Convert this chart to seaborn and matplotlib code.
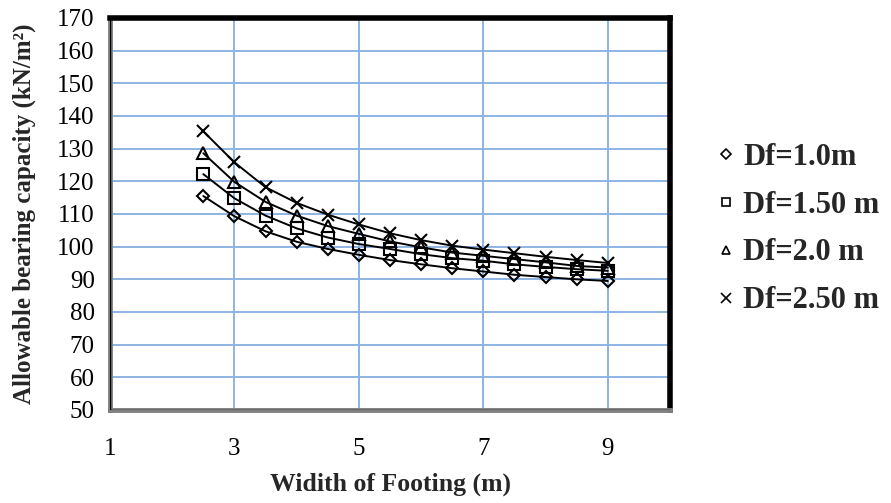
import matplotlib
matplotlib.use("Agg")
import matplotlib.pyplot as plt
from matplotlib.lines import Line2D
import seaborn as sns
import pandas as pd

width_m = [2.5, 3.0, 3.5, 4.0, 4.5, 5.0, 5.5, 6.0, 6.5, 7.0, 7.5, 8.0, 8.5, 9.0]
df_10 = [115.5, 109.3, 104.7, 101.5, 99.3, 97.5, 95.9, 94.6, 93.4, 92.4, 91.4, 90.7, 90.0, 89.5]
df_15 = [122.2, 114.8, 109.5, 105.6, 102.8, 100.8, 99.3, 97.7, 96.5, 95.7, 94.6, 93.8, 93.1, 92.6]
df_20 = [128.6, 119.8, 113.7, 109.5, 106.3, 103.9, 101.6, 99.8, 98.2, 97.2, 96.2, 95.2, 94.1, 93.6]
df_25 = [135.3, 125.8, 118.2, 113.4, 109.8, 106.8, 104.1, 102.0, 100.3, 99.1, 98.0, 96.9, 95.9, 95.0]
series_names = ["Df=1.0m", "Df=1.50 m", "Df=2.0 m", "Df=2.50 m"]
x_ticks = [1, 3, 5, 7, 9]
y_ticks = list(range(50, 171, 10))
x_label = "Widith of Footing (m)"
y_label = "Allowable bearing capacity (kN/m²)"

records = []
for name, vals in zip(series_names, [df_10, df_15, df_20, df_25]):
    for w, v in zip(width_m, vals):
        records.append({"Width": w, "Capacity": v, "Series": name})
data = pd.DataFrame(records)

sns.set_style("white")
plt.rcParams["font.family"] = ["Liberation Serif", "DejaVu Serif"]

fig = plt.figure(figsize=(8.91, 5.03), dpi=100)
ax = fig.add_axes([110 / 891, 1 - 410 / 503, 560 / 891, 392 / 503])

markers = {"Df=1.0m": "D", "Df=1.50 m": "s", "Df=2.0 m": "^", "Df=2.50 m": "x"}
msizes = {"Df=1.0m": 6.5, "Df=1.50 m": 8, "Df=2.0 m": 8, "Df=2.50 m": 9}
for name in series_names:
    sub = data[data["Series"] == name]
    sns.lineplot(data=sub, x="Width", y="Capacity", ax=ax, color="black",
                 linewidth=1.4, marker=markers[name], markersize=msizes[name],
                 markerfacecolor="none", markeredgecolor="black",
                 markeredgewidth=1.5, legend=False, zorder=3)

ax.set_xlim(1, 10)
ax.set_ylim(50, 170)
ax.set_xticks(x_ticks)
ax.set_yticks(y_ticks)
ax.grid(True, color="#8EB4E3", linewidth=1.4, zorder=0)
ax.set_axisbelow(True)

for s in ["left", "bottom"]:
    ax.spines[s].set_color("#808080")
    ax.spines[s].set_linewidth(3.5)
for s in ["top", "right"]:
    ax.spines[s].set_color("black")
    ax.spines[s].set_linewidth(4)
ax.axvline(1, color="black", linewidth=1.0, zorder=5)
ax.axhline(50, color="black", linewidth=1.0, zorder=5)

ax.tick_params(axis="both", direction="out", length=6, width=1.2, color="#808080",
               labelsize=18, labelcolor="black")
ax.tick_params(axis="x", pad=14)
ax.tick_params(axis="y", pad=5)

ax.set_xlabel(x_label, fontsize=18.5, fontweight="bold")
ax.set_ylabel(y_label, fontsize=18, fontweight="bold")
ax.xaxis.set_label_coords(0.5, -(484 - 410) / 392, transform=ax.transAxes)
ax.xaxis.label.set_va("center")
ax.yaxis.set_label_coords(-(110 - 24) / 560, 0.5, transform=ax.transAxes)
ax.yaxis.label.set_va("center")

handles = [Line2D([], [], linestyle="none", marker=markers[n], markersize=msizes[n] * 0.75,
                  markerfacecolor="none", markeredgecolor="black", markeredgewidth=1.2)
           for n in series_names]
leg = fig.legend(handles, series_names, loc="center left", bbox_to_anchor=(717 / 891, 1 - 229 / 503),
                 frameon=False, prop={"weight": "bold", "size": 22, "family": "Liberation Serif"},
                 labelspacing=0.62, handletextpad=0.25, handlelength=0.6, borderpad=0,
                 borderaxespad=0)

fig.savefig("out.png", dpi=100)
